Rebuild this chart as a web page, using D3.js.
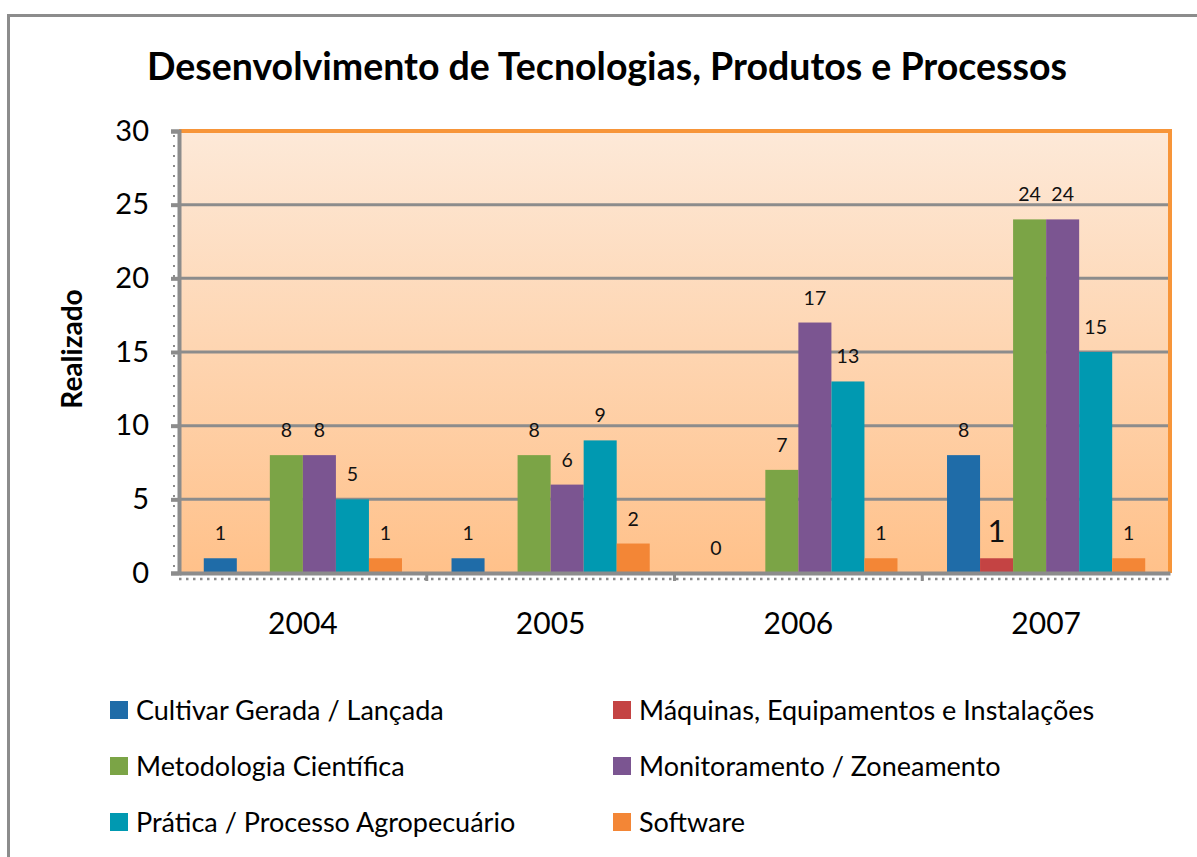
<!DOCTYPE html>
<html>
<head>
<meta charset="utf-8">
<script src="https://cdn.jsdelivr.net/npm/d3@7"></script>
<style>
  html, body { margin: 0; padding: 0; background: #fff; }
  svg { display: block; font-family: Lato, "Open Sans", sans-serif; }
</style>
</head>
<body>
<div id="chart"></div>
<script>
// ---- Data ----
const years = ["2004", "2005", "2006", "2007"];
const seriesNames = [
  "Cultivar Gerada / Lançada",
  "Máquinas, Equipamentos e Instalações",
  "Metodologia Científica",
  "Monitoramento / Zoneamento",
  "Prática / Processo Agropecuário",
  "Software"
];
const cultivar      = [1, 1, 0, 8];
const maquinas      = [null, null, null, 1];
const metodologia   = [8, 8, 7, 24];
const monitoramento = [8, 6, 17, 24];
const pratica       = [5, 9, 13, 15];
const software      = [1, 2, 1, 1];
const yTicks = [0, 5, 10, 15, 20, 25, 30];

const seriesValues = [cultivar, maquinas, metodologia, monitoramento, pratica, software];
const colors = ["#1f6ca8", "#c44343", "#7ba446", "#7b5591", "#0099b1", "#f38636"];

const W = 1197, H = 857;
const plot = { left: 179, right: 1170, top: 131, bottom: 573 };

const svg = d3.select("#chart").append("svg")
  .attr("width", W).attr("height", H);

// ---- Outer frame ----
svg.append("rect")
  .attr("x", 8.5).attr("y", 15.5)
  .attr("width", 1220).attr("height", 880)
  .attr("fill", "#fff").attr("stroke", "#8c8c8c").attr("stroke-width", 3);

// ---- Title ----
svg.append("text")
  .attr("x", 607).attr("y", 80)
  .attr("text-anchor", "middle")
  .style("font-size", "37.5px").style("font-weight", "bold")
  .text("Desenvolvimento de Tecnologias, Produtos e Processos");

// ---- Scales ----
const x = d3.scaleBand().domain(years).range([plot.left, plot.right]).padding(0);
const xs = d3.scaleBand().domain(d3.range(seriesNames.length))
  .range([0, x.bandwidth()]).paddingInner(0).paddingOuter(0.75);
const y = d3.scaleLinear().domain([0, 30]).range([plot.bottom, plot.top]);

// ---- Plot background ----
const defs = svg.append("defs");
const grad = defs.append("linearGradient").attr("id", "bg")
  .attr("x1", 0).attr("y1", 0).attr("x2", 0).attr("y2", 1);
grad.append("stop").attr("offset", "0%").attr("stop-color", "#fde9d8");
grad.append("stop").attr("offset", "100%").attr("stop-color", "#ffc18a");

svg.append("rect")
  .attr("x", plot.left).attr("y", plot.top)
  .attr("width", plot.right - plot.left).attr("height", plot.bottom - plot.top)
  .attr("fill", "url(#bg)");

// ---- Gridlines ----
svg.append("g")
  .selectAll("line")
  .data(yTicks.filter(t => t > 0 && t < 30))
  .join("line")
  .attr("x1", plot.left).attr("x2", plot.right)
  .attr("y1", d => y(d)).attr("y2", d => y(d))
  .attr("stroke", "#8c8c8c").attr("stroke-width", 3);

// ---- Bars ----
const bars = [];
seriesValues.forEach((vals, si) => {
  vals.forEach((v, yi) => {
    if (v !== null) bars.push({ s: si, year: years[yi], v });
  });
});

svg.append("g")
  .selectAll("rect")
  .data(bars.filter(d => d.v > 0))
  .join("rect")
  .attr("x", d => x(d.year) + xs(d.s))
  .attr("y", d => y(d.v))
  .attr("width", xs.bandwidth())
  .attr("height", d => y(0) - y(d.v))
  .attr("fill", d => colors[d.s]);

// ---- Data labels ----
svg.append("g")
  .selectAll("text")
  .data(bars)
  .join("text")
  .attr("x", d => x(d.year) + xs(d.s) + xs.bandwidth() / 2)
  .attr("y", d => y(d.v) - (d.s === 1 ? 16 : 18))
  .attr("text-anchor", "middle")
  .style("font-size", d => d.s === 1 ? "31px" : "19.5px")
  .style("fill", "#111")
  .text(d => d.v);

// ---- Plot border (orange top/right) ----
svg.append("path")
  .attr("d", `M${plot.left},${plot.top}H${plot.right}V${plot.bottom}`)
  .attr("fill", "none").attr("stroke", "#f79539").attr("stroke-width", 4);

// ---- Y axis ----
const yAxis = svg.append("g")
  .attr("transform", `translate(${plot.left},0)`)
  .call(d3.axisLeft(y).tickValues(yTicks).tickSize(8).tickPadding(22));
yAxis.select(".domain").attr("stroke", "#8c8c8c").attr("stroke-width", 4);
yAxis.selectAll(".tick line").attr("stroke", "#8c8c8c").attr("stroke-width", 4);
yAxis.selectAll(".tick text").style("font-size", "29px").style("font-family", "Lato, sans-serif").attr("fill", "#000");

svg.append("line")
  .attr("x1", plot.left - 5).attr("x2", plot.left - 5)
  .attr("y1", plot.top + 4).attr("y2", plot.bottom)
  .attr("stroke", "#8c8c8c").attr("stroke-width", 2)
  .attr("stroke-dasharray", "2,8");

// ---- X axis ----
const xAxis = svg.append("g")
  .attr("transform", `translate(0,${plot.bottom})`)
  .call(d3.axisBottom(x).tickSize(0).tickPadding(40));
xAxis.select(".domain").attr("stroke", "#8c8c8c").attr("stroke-width", 4);
xAxis.selectAll(".tick text").style("font-size", "30px").style("font-family", "Lato, sans-serif").attr("fill", "#000");

svg.append("g")
  .selectAll("line")
  .data(years.slice(1))
  .join("line")
  .attr("x1", d => x(d)).attr("x2", d => x(d))
  .attr("y1", plot.bottom).attr("y2", plot.bottom + 8)
  .attr("stroke", "#8c8c8c").attr("stroke-width", 3);

svg.append("line")
  .attr("x1", plot.left).attr("x2", plot.right)
  .attr("y1", plot.bottom + 6).attr("y2", plot.bottom + 6)
  .attr("stroke", "#8c8c8c").attr("stroke-width", 2.5)
  .attr("stroke-dasharray", "2.5,4.5");

// ---- Y axis title ----
svg.append("text")
  .attr("transform", "translate(82,349) rotate(-90)")
  .attr("text-anchor", "middle")
  .style("font-size", "28px").style("font-weight", "bold")
  .text("Realizado");

// ---- Legend ----
const legendCols = [110, 613];
const legendRows = [710, 766, 822];
const legend = svg.append("g")
  .selectAll("g")
  .data(seriesNames)
  .join("g")
  .attr("transform", (d, i) => `translate(${legendCols[i % 2]},${legendRows[Math.floor(i / 2)]})`);
legend.append("rect")
  .attr("x", 0).attr("y", -9).attr("width", 18).attr("height", 18)
  .attr("fill", (d, i) => colors[i]);
legend.append("text")
  .attr("x", 26).attr("y", 0).attr("dy", "0.36em")
  .style("font-size", "27px")
  .text(d => d);
</script>
</body>
</html>
